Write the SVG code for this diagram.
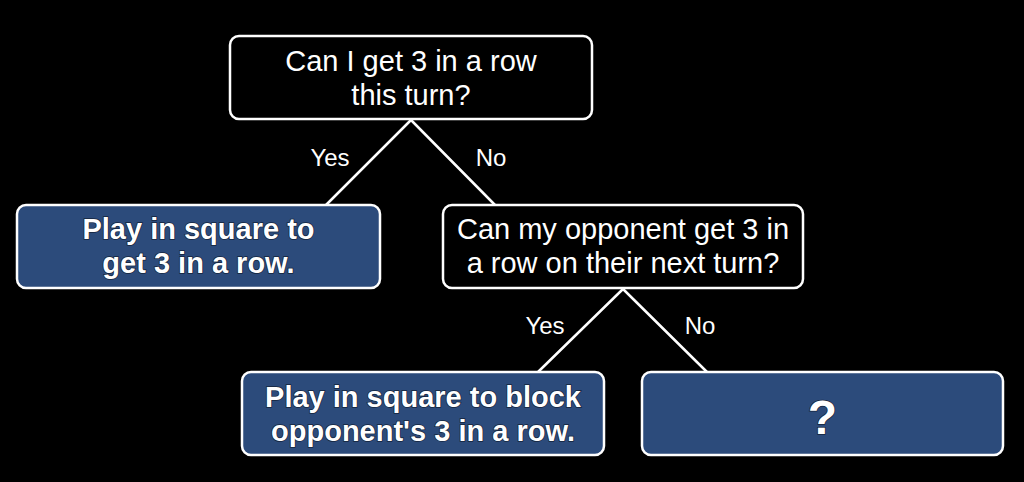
<svg xmlns="http://www.w3.org/2000/svg" width="1024" height="482" viewBox="0 0 1024 482">
  <style>
    .box { stroke: #ffffff; stroke-width: 2.5; }
    .q { fill: #000000; }
    .a { fill: #2c4b7b; }
    .edge { stroke: #ffffff; stroke-width: 2.5; fill: none; stroke-linecap: round; }
    .t { font-family: "Liberation Sans", Arial, sans-serif; font-size: 29px; fill: #ffffff; text-anchor: middle; }
    .tb { font-family: "Liberation Sans", Arial, sans-serif; font-size: 29px; font-weight: bold; fill: #ffffff; text-anchor: middle; stroke: #14243c; stroke-width: 1.5; paint-order: stroke; }
    .lbl { font-family: "Liberation Sans", Arial, sans-serif; font-size: 24px; fill: #ffffff; text-anchor: middle; }
  </style>
  <rect x="0" y="0" width="1024" height="482" fill="#000000"/>

  <g id="connectors">
    <line class="edge" x1="411" y1="120" x2="326" y2="205"/>
    <line class="edge" x1="411" y1="120" x2="495" y2="205"/>
    <line class="edge" x1="623" y1="289" x2="538" y2="372"/>
    <line class="edge" x1="623" y1="289" x2="707" y2="372"/>
    <text class="lbl" x="330" y="166">Yes</text>
    <text class="lbl" x="491" y="166">No</text>
    <text class="lbl" x="545" y="334">Yes</text>
    <text class="lbl" x="700" y="334">No</text>
  </g>

  <g id="q1">
    <rect class="box q" x="230" y="36" width="362" height="83" rx="9"/>
    <text class="t" x="411" y="71">Can I get 3 in a row</text>
    <text class="t" x="411" y="105">this turn?</text>
  </g>

  <g id="win">
    <rect class="box a" x="17" y="205" width="363" height="83" rx="9"/>
    <text class="tb" x="198.5" y="239">Play in square to</text>
    <text class="tb" x="198.5" y="273">get 3 in a row.</text>
  </g>

  <g id="q2">
    <rect class="box q" x="443" y="205" width="360" height="83" rx="9"/>
    <text class="t" x="623" y="239">Can my opponent get 3 in</text>
    <text class="t" x="623" y="273">a row on their next turn?</text>
  </g>

  <g id="block">
    <rect class="box a" x="242" y="372" width="362" height="83" rx="9"/>
    <text class="tb" x="423" y="407">Play in square to block</text>
    <text class="tb" x="423" y="441">opponent's 3 in a row.</text>
  </g>

  <g id="unknown">
    <rect class="box a" x="642" y="372" width="361" height="83" rx="9"/>
    <text class="tb" x="822.5" y="434" style="font-size:48px">?</text>
  </g>
</svg>
